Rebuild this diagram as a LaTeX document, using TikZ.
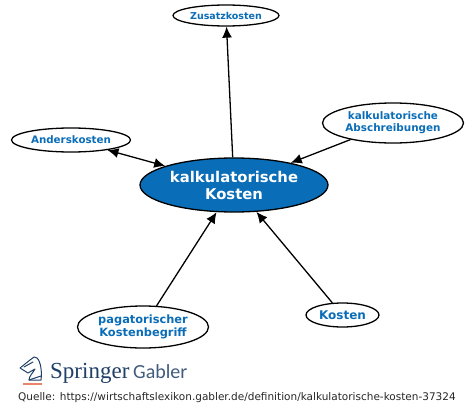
\documentclass[tikz,border=0pt]{standalone}
\usepackage{fontspec}
\setmainfont{DejaVu Sans}
\newfontfamily\logoserif{Liberation Serif}
\newfontfamily\logosans{Carlito}
\usetikzlibrary{shapes.geometric,arrows.meta}
\definecolor{sgblue}{HTML}{0A6DB8}
\definecolor{logonavy}{HTML}{1F3F66}
\definecolor{logoorange}{HTML}{E8846A}
\tikzset{
  concept/.style={ellipse,draw=black,line width=1.3pt,fill=white,inner sep=0pt,align=center,text=sgblue,font=\fontsize{10.3}{12}\selectfont\bfseries},
  mainconcept/.style={concept,fill=sgblue,text=white,font=\fontsize{14.8}{17}\selectfont\bfseries},
  link/.style={line width=1.3pt,-{Latex[length=11pt,width=10pt]}},
  bothlink/.style={line width=1.3pt,{Latex[length=11pt,width=10pt]}-{Latex[length=11pt,width=10pt]}},
  logoline/.style={draw=logonavy,line width=1pt,line join=round,line cap=round}
}
\begin{document}
\begin{tikzpicture}[x=1pt,y=-1pt]
\useasboundingbox (0,0) rectangle (474,415);
\node[mainconcept,minimum width=188pt,minimum height=54pt] (main) at (234,185) {kalkulatorische\\Kosten};
\node[concept,minimum width=119pt,minimum height=24pt] (anders) at (71,140) {Anderskosten};
\node[concept,minimum width=106pt,minimum height=21pt,font=\fontsize{9.5}{11}\selectfont\bfseries] (zusatz) at (226,15.5) {Zusatzkosten};
\node[concept,minimum width=141pt,minimum height=40pt,font=\fontsize{10.4}{12}\selectfont\bfseries] (abschr) at (393,123) {kalkulatorische\\Abschreibungen};
\node[concept,minimum width=131pt,minimum height=42pt,font=\fontsize{11.4}{12.5}\selectfont\bfseries] (pagat) at (143,327) {pagatorischer\\Kostenbegriff};
\node[concept,minimum width=73pt,minimum height=24pt,font=\fontsize{12}{14}\selectfont\bfseries] (kosten) at (342.5,315) {Kosten};
\draw[link] (main) -- (zusatz);
\draw[bothlink] (anders) -- (main);
\draw[link] (abschr) -- (main);
\draw[link] (pagat) -- (main);
\draw[link] (kosten) -- (main);
% logo
\draw[logoline] (30,360) -- (34,357) -- (37,358) .. controls (41,362) and (42,372) .. (41,380) -- (29,380) .. controls (29,376) and (33,373) .. (35,369) -- (28,373) -- (20,368) -- (30,360);
\draw[logoline] (24,367) -- (33,362);
\draw[logoline] (29,380) -- (41,376);
\draw[draw=logoorange,line width=1.6pt] (23,384) -- (42,384);
\node[anchor=base west,inner sep=0pt,text=logonavy,font=\fontsize{23}{23}\selectfont\logoserif] (springer) at (50,378) {Springer};
\node[anchor=base west,inner sep=0pt,text=logonavy!85,font=\fontsize{20}{20}\selectfont\logosans] (gabler) at (133,378) {Gabler};
\node[anchor=base west,inner sep=0pt,text=black!85,font=\fontsize{10.5}{12}\selectfont] (source) at (18,400) {Quelle: https://wirtschaftslexikon.gabler.de/definition/kalkulatorische-kosten-37324};
\end{tikzpicture}
\end{document}
